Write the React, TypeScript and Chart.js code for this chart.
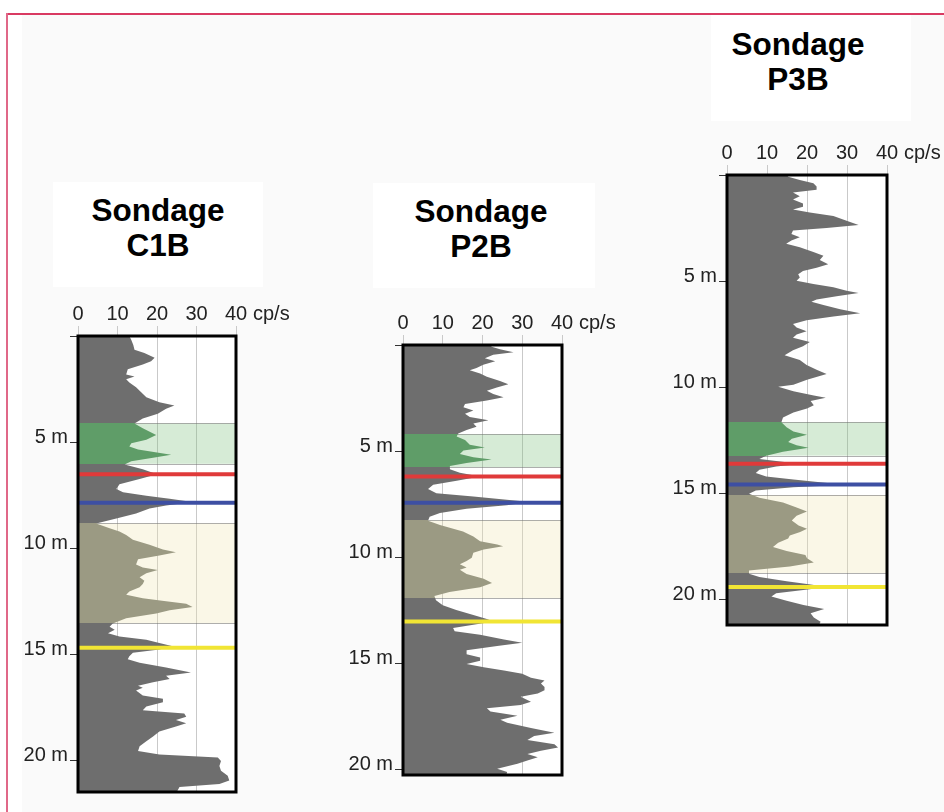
import React, { useEffect, useRef } from 'react';
import { Chart, registerables } from 'chart.js';

Chart.register(...registerables);

const FONT = '"Liberation Sans", Arial, Helvetica, sans-serif';

// ---------- Data: gamma-ray logs (depth in m, value in cp/s) ----------
const X_TICKS = [0, 10, 20, 30, 40];
const X_UNIT = 'cp/s';
const DEPTH_UNIT = 'm';

const C1B_DEPTH = [0, 0.19, 0.42, 0.65, 0.8, 1.03, 1.19, 1.34, 1.57, 1.81, 1.91, 2.04, 2.19, 2.42, 2.65, 2.89, 3.12, 3.27, 3.43, 3.66, 3.89, 4.12, 4.35, 4.66, 4.89, 5.05, 5.2, 5.35, 5.59, 5.74, 5.9, 6.05, 6.28, 6.51, 6.74, 6.98, 7.21, 7.36, 7.52, 7.67, 7.82, 7.98, 8.13, 8.36, 8.6, 8.83, 9.06, 9.21, 9.37, 9.6, 9.83, 10.06, 10.19, 10.34, 10.52, 10.76, 10.91, 11.02, 11.17, 11.37, 11.53, 11.68, 11.84, 12.04, 12.19, 12.35, 12.5, 12.61, 12.76, 12.92, 13.07, 13.3, 13.54, 13.69, 13.84, 14.0, 14.15, 14.31, 14.46, 14.62, 14.77, 14.92, 15.08, 15.23, 15.39, 15.62, 15.85, 16.0, 16.16, 16.31, 16.47, 16.57, 16.7, 16.93, 17.09, 17.25, 17.45, 17.63, 17.78, 17.93, 18.09, 18.24, 18.4, 18.63, 18.86, 19.09, 19.32, 19.55, 19.71, 19.86, 20.02, 20.25, 20.48, 20.71, 20.94, 21.1, 21.25, 21.48];
const C1B_GR = [13, 13.5, 14, 14.3, 16.8, 19.4, 18.5, 16.4, 12.6, 12.2, 14.3, 12.2, 13, 14.7, 16, 17.3, 20.6, 24.4, 22.3, 20.2, 16.4, 14.3, 16.4, 19.8, 17.3, 13.5, 13, 15.2, 23.6, 19, 13.5, 11.8, 16.4, 20, 15.6, 10.5, 9.7, 11.4, 17.3, 23.2, 29, 22.3, 18.1, 14.7, 9.7, 4.6, 8, 10.5, 12.2, 13.9, 18.1, 21.5, 24.8, 20.6, 15.2, 14.7, 16.4, 20.2, 17.3, 15.6, 16.8, 16.4, 15.6, 13, 12.2, 16.4, 22.3, 27.4, 29, 23.2, 19.8, 12.2, 8.8, 8, 9.3, 7.6, 10.5, 17.3, 20.6, 24, 20.6, 13.9, 13, 12.6, 15.6, 22.3, 28.6, 22.3, 23.2, 19, 15.2, 16.4, 14.7, 16.4, 21.5, 21.5, 17.3, 16.4, 26.9, 27.4, 24.8, 27.4, 24.8, 20.6, 19, 17.3, 15.6, 15.2, 20.6, 35.4, 36.2, 35.8, 36.2, 37.9, 38.3, 35.8, 25.7, 25];
const C1B_MAX_DEPTH = 21.48;
const C1B_GREEN = [4.12, 6.02];
const C1B_BEIGE = [8.83, 13.53];
const C1B_RED = 6.51;
const C1B_BLUE = 7.85;
const C1B_YELLOW = 14.69;

const P2B_DEPTH = [0, 0.08, 0.2, 0.34, 0.46, 0.62, 0.77, 0.93, 1.08, 1.19, 1.34, 1.5, 1.7, 1.85, 2.01, 2.16, 2.31, 2.47, 2.62, 2.78, 2.93, 3.09, 3.24, 3.4, 3.55, 3.7, 3.86, 4.01, 4.17, 4.32, 4.48, 4.71, 4.83, 4.98, 5.14, 5.29, 5.4, 5.56, 5.71, 5.86, 6.02, 6.2, 6.4, 6.59, 6.79, 6.99, 7.15, 7.3, 7.41, 7.56, 7.72, 7.92, 8.1, 8.29, 8.49, 8.8, 9.03, 9.26, 9.41, 9.49, 9.65, 9.8, 10.03, 10.19, 10.34, 10.49, 10.6, 10.8, 11.03, 11.22, 11.42, 11.65, 11.84, 12.04, 12.27, 12.5, 12.73, 12.92, 13.04, 13.19, 13.35, 13.5, 13.66, 13.89, 14.04, 14.2, 14.4, 14.58, 14.74, 14.89, 15.05, 15.2, 15.35, 15.51, 15.69, 15.82, 15.97, 16.13, 16.28, 16.44, 16.59, 16.82, 16.98, 17.13, 17.28, 17.48, 17.67, 17.82, 18.06, 18.29, 18.44, 18.63, 18.83, 18.98, 19.14, 19.29, 19.44, 19.6, 19.75, 19.98, 20.14, 20.28];
const P2B_GR = [22, 22.3, 24.4, 27.8, 22.7, 20.6, 23.2, 20.2, 18.5, 16.8, 19.4, 21.1, 24.4, 26.5, 23.6, 21.1, 22.7, 25.3, 21.1, 15.6, 15.2, 17.7, 15.6, 16.8, 21.5, 17.7, 18.5, 16, 13.9, 13.5, 15.6, 16.8, 20.6, 15.2, 14.3, 17.7, 22.3, 16, 11.8, 11.8, 14.3, 19.4, 13.5, 7.6, 6.3, 8.4, 17.7, 26.1, 32, 26.1, 16, 9.3, 6.7, 6.3, 9.3, 15.1, 17.7, 19.4, 23.7, 25.2, 20.3, 17.7, 17.3, 16, 14.3, 16, 14.3, 16, 20.3, 22.4, 19.4, 11.7, 7.9, 8.3, 10, 13.4, 17.7, 21.1, 22.8, 17.7, 12.6, 13, 19.4, 25.4, 30, 23.7, 16, 16, 19.4, 19.4, 16, 20.3, 25.4, 30, 32.2, 35.6, 34.7, 35.6, 35.6, 33.9, 29.6, 32.2, 29.6, 21.1, 22, 28.8, 24.5, 26.2, 32.2, 38.1, 33, 31.3, 38.1, 39, 34.7, 31.3, 33.9, 31.3, 28.8, 23.7, 26.2, 26];
const P2B_MAX_DEPTH = 20.28;
const P2B_GREEN = [4.21, 5.76];
const P2B_BEIGE = [8.27, 11.93];
const P2B_RED = 6.2;
const P2B_BLUE = 7.44;
const P2B_YELLOW = 13.04;

const P3B_DEPTH = [0, 0.08, 0.23, 0.39, 0.54, 0.69, 0.82, 1.0, 1.16, 1.34, 1.5, 1.62, 1.77, 1.93, 2.16, 2.35, 2.5, 2.62, 2.78, 2.93, 3.09, 3.24, 3.4, 3.63, 3.81, 4.01, 4.21, 4.37, 4.52, 4.68, 4.83, 4.98, 5.14, 5.29, 5.45, 5.56, 5.71, 5.86, 5.97, 6.13, 6.33, 6.51, 6.67, 6.84, 7.02, 7.18, 7.36, 7.52, 7.67, 7.87, 8.07, 8.26, 8.49, 8.72, 8.95, 9.18, 9.37, 9.65, 9.88, 9.98, 10.19, 10.39, 10.49, 10.65, 10.85, 11.0, 11.19, 11.42, 11.65, 11.88, 12.08, 12.24, 12.42, 12.58, 12.73, 12.85, 13.04, 13.23, 13.38, 13.53, 13.63, 13.73, 13.89, 14.04, 14.2, 14.35, 14.51, 14.58, 14.71, 14.86, 15.02, 15.2, 15.43, 15.66, 15.85, 16.05, 16.28, 16.51, 16.67, 16.82, 16.98, 17.13, 17.33, 17.52, 17.71, 17.9, 18.06, 18.26, 18.44, 18.63, 18.78, 18.94, 19.14, 19.29, 19.41, 19.55, 19.71, 19.86, 20.06, 20.26, 20.45, 20.65, 20.85, 21.05, 21.2];
const P3B_GR = [15, 15.3, 18.2, 21.6, 22.4, 22.4, 16.5, 18.2, 16.5, 19, 19, 16.5, 20.7, 26.6, 29.9, 32.9, 24.9, 16.5, 16.1, 18.2, 16.1, 14.8, 18.2, 21.6, 24.1, 23.2, 25.3, 22.4, 19, 17.8, 18.2, 17.4, 21.6, 26.6, 29.9, 32.9, 27.4, 22.4, 21.1, 24.1, 28.3, 33.3, 26.6, 19.9, 16.5, 17.4, 19.9, 17.4, 16.5, 20.7, 19, 16.5, 14.4, 18.2, 19.9, 22.4, 24.9, 20, 16.6, 12.8, 16.6, 21.7, 24.7, 20.9, 21.7, 20, 16.6, 14, 13.6, 14.9, 16.6, 20, 16.2, 15.3, 17.4, 20.4, 14, 9.8, 8.1, 14.9, 17.4, 12.3, 8.1, 7.2, 9.8, 16.6, 25.1, 31, 16.6, 7.2, 5.5, 8.1, 14, 17.4, 20, 17.4, 16.2, 17.9, 20, 18.3, 15.7, 15.3, 12.8, 11.5, 14.9, 19.6, 20, 21.7, 15.7, 5.5, 5.5, 8.1, 14.9, 20.9, 25.1, 19.1, 12.3, 11.1, 14.9, 19.1, 24.3, 20.9, 21.7, 23.4, 23];
const P3B_MAX_DEPTH = 21.2;
const P3B_GREEN = [11.65, 13.22];
const P3B_BEIGE = [15.08, 18.75];
const P3B_RED = 13.6;
const P3B_BLUE = 14.58;
const P3B_YELLOW = 19.41;

// ---------- Styles ----------
const GRAY = '#6e6e6e';
const GREEN_FILL = '#5f9d68';
const BEIGE_FILL = '#9b9a83';
const GREEN_BAND = 'rgba(120,190,120,0.30)';
const BEIGE_BAND = 'rgba(240,228,175,0.30)';
const RED = '#e03a3a';
const BLUE = '#3d4fa3';
const YELLOW = '#f1e534';

const LEFT_SPACE = 70;
const TOP_SPACE = 50;
const RIGHT_SPACE = 57;
const BOTTOM_SPACE = 6;

type Panel = {
  key: string;
  name: string;
  depth: number[];
  gr: number[];
  maxDepth: number;
  green: number[];
  beige: number[];
  red: number;
  blue: number;
  yellow: number;
  L: number; R: number; T: number; B: number;
  box: { left: number; top: number; width: number; height: number };
  textCx: number;
  textTop: number;
};

const PANELS: Panel[] = [
  {
    key: 'c1b', name: 'C1B', depth: C1B_DEPTH, gr: C1B_GR, maxDepth: C1B_MAX_DEPTH,
    green: C1B_GREEN, beige: C1B_BEIGE, red: C1B_RED, blue: C1B_BLUE, yellow: C1B_YELLOW,
    L: 78, R: 236, T: 336, B: 800,
    box: { left: 53, top: 182, width: 210, height: 105 }, textCx: 158, textTop: 193,
  },
  {
    key: 'p2b', name: 'P2B', depth: P2B_DEPTH, gr: P2B_GR, maxDepth: P2B_MAX_DEPTH,
    green: P2B_GREEN, beige: P2B_BEIGE, red: P2B_RED, blue: P2B_BLUE, yellow: P2B_YELLOW,
    L: 403, R: 562, T: 345, B: 783,
    box: { left: 373, top: 183, width: 222, height: 105 }, textCx: 481, textTop: 194,
  },
  {
    key: 'p3b', name: 'P3B', depth: P3B_DEPTH, gr: P3B_GR, maxDepth: P3B_MAX_DEPTH,
    green: P3B_GREEN, beige: P3B_BEIGE, red: P3B_RED, blue: P3B_BLUE, yellow: P3B_YELLOW,
    L: 727, R: 887, T: 175, B: 633,
    box: { left: 711, top: 15, width: 200, height: 106 }, textCx: 798, textTop: 27,
  },
];

function profileFill(chart: any, p: Panel) {
  const { chartArea, scales, ctx } = chart;
  if (!chartArea || !scales.y) return GRAY;
  const h = chartArea.bottom - chartArea.top;
  const t = (d: number) =>
    Math.min(1, Math.max(0, (scales.y.getPixelForValue(d) - chartArea.top) / h));
  const g = ctx.createLinearGradient(0, chartArea.top, 0, chartArea.bottom);
  g.addColorStop(0, GRAY);
  const bands = [
    { r: p.green, c: GREEN_FILL },
    { r: p.beige, c: BEIGE_FILL },
  ].sort((a, b) => a.r[0] - b.r[0]);
  for (const b of bands) {
    const a = t(b.r[0]);
    const z = t(b.r[1]);
    g.addColorStop(a, GRAY);
    g.addColorStop(a, b.c);
    g.addColorStop(z, b.c);
    g.addColorStop(z, GRAY);
  }
  g.addColorStop(1, GRAY);
  return g;
}

function makePlugin(p: Panel) {
  return {
    id: 'logDecor_' + p.key,
    beforeDraw(chart: any) {
      const { ctx, chartArea: a } = chart;
      ctx.save();
      ctx.fillStyle = '#ffffff';
      ctx.fillRect(a.left, a.top, a.right - a.left, a.bottom - a.top);
      ctx.restore();
    },
    beforeDatasetsDraw(chart: any) {
      const { ctx, chartArea: a, scales } = chart;
      const y = scales.y;
      ctx.save();
      for (const [range, color] of [[p.green, GREEN_BAND], [p.beige, BEIGE_BAND]] as any) {
        const y0 = y.getPixelForValue(range[0]);
        const y1 = y.getPixelForValue(range[1]);
        ctx.fillStyle = color;
        ctx.fillRect(a.left, y0, a.right - a.left, y1 - y0);
        ctx.strokeStyle = 'rgba(110,110,110,0.55)';
        ctx.lineWidth = 1;
        ctx.strokeRect(a.left, Math.round(y0) + 0.5, a.right - a.left, Math.round(y1) - Math.round(y0));
      }
      ctx.restore();
    },
    afterDatasetsDraw(chart: any) {
      const { ctx, chartArea: a, scales } = chart;
      const y = scales.y;
      const x = scales.x;
      ctx.save();
      for (const [d, color] of [[p.red, RED], [p.blue, BLUE], [p.yellow, YELLOW]] as any) {
        const yy = y.getPixelForValue(d);
        ctx.strokeStyle = color;
        ctx.lineWidth = 4;
        ctx.beginPath();
        ctx.moveTo(x.getPixelForValue(0), yy);
        ctx.lineTo(x.getPixelForValue(40), yy);
        ctx.stroke();
      }
      ctx.strokeStyle = '#000';
      ctx.lineWidth = 3;
      ctx.strokeRect(a.left, a.top, a.right - a.left, a.bottom - a.top);
      ctx.fillStyle = '#222';
      ctx.font = `20px ${FONT}`;
      ctx.textAlign = 'left';
      ctx.textBaseline = 'middle';
      ctx.fillText(X_UNIT, x.getPixelForValue(40) + 17, a.top - 22);
      ctx.restore();
    },
  };
}

function LogChart({ p }: { p: Panel }) {
  const ref = useRef<HTMLCanvasElement>(null);
  const width = p.R - p.L + LEFT_SPACE + RIGHT_SPACE;
  const height = p.B - p.T + TOP_SPACE + BOTTOM_SPACE;

  useEffect(() => {
    const canvas = ref.current;
    if (!canvas) return;
    const chart = new Chart(canvas, {
      type: 'line',
      data: {
        datasets: [
          {
            data: p.depth.map((d, i) => ({ x: p.gr[i], y: d })),
            fill: 'origin',
            backgroundColor: (ctx: any) => profileFill(ctx.chart, p),
            borderWidth: 0,
            borderColor: 'rgba(0,0,0,0)',
            pointRadius: 0,
            tension: 0,
          },
        ],
      },
      options: {
        indexAxis: 'y',
        responsive: false,
        animation: false,
        devicePixelRatio: 1,
        events: [],
        layout: { padding: { left: 0, top: 0, right: RIGHT_SPACE, bottom: BOTTOM_SPACE } },
        plugins: { legend: { display: false }, tooltip: { enabled: false }, title: { display: false } },
        scales: {
          x: {
            type: 'linear',
            position: 'top',
            min: X_TICKS[0],
            max: X_TICKS[X_TICKS.length - 1],
            afterBuildTicks: (s: any) => {
              s.ticks = X_TICKS.map((v) => ({ value: v }));
            },
            ticks: {
              font: { family: FONT, size: 20 },
              color: '#222',
              padding: 0,
              maxRotation: 0,
            },
            grid: { color: '#c9c9c9', lineWidth: 1, tickLength: 10, drawTicks: true },
            border: { display: false },
            afterFit: (s: any) => {
              s.height = TOP_SPACE;
            },
          },
          y: {
            type: 'linear',
            position: 'left',
            reverse: true,
            min: 0,
            max: p.maxDepth,
            ticks: {
              stepSize: 5,
              includeBounds: false,
              callback: (v: any) => (Number(v) === 0 ? '' : `${v} ${DEPTH_UNIT}`),
              labelOffset: -5,
              padding: 2,
              font: { family: FONT, size: 20 },
              color: '#222',
            },
            grid: { drawOnChartArea: false, drawTicks: true, tickLength: 8, tickColor: '#333', lineWidth: 1 },
            border: { display: false },
            afterFit: (s: any) => {
              s.width = LEFT_SPACE;
            },
          },
        },
      } as any,
      plugins: [makePlugin(p)],
    } as any);
    return () => chart.destroy();
  }, []);

  return (
    <canvas
      ref={ref}
      width={width}
      height={height}
      style={{
        position: 'absolute',
        left: p.L - LEFT_SPACE,
        top: p.T - TOP_SPACE,
        width,
        height,
      }}
    />
  );
}

export default function App() {
  return (
    <div
      style={{
        position: 'absolute',
        left: 0,
        top: 0,
        width: 944,
        height: 812,
        overflow: 'hidden',
        background: '#ffffff',
        fontFamily: FONT,
      }}
    >
      <div style={{ position: 'absolute', left: 22, top: 15, right: 0, bottom: 0, background: '#fafafa' }} />
      <div style={{ position: 'absolute', left: 7, top: 13, width: 937, height: 2, background: '#d93a62' }} />
      <div style={{ position: 'absolute', left: 6, top: 13, width: 2, height: 799, background: '#e06888' }} />
      {PANELS.map((p) => (
        <React.Fragment key={p.key}>
          <div style={{ position: 'absolute', ...p.box, background: '#ffffff' }} />
          <div
            style={{
              position: 'absolute',
              left: p.textCx - 120,
              top: p.textTop - 0.5,
              width: 240,
              textAlign: 'center',
              fontWeight: 'bold',
              fontSize: 31.5,
              lineHeight: '35px',
              color: '#000',
              whiteSpace: 'pre',
            }}
          >
            {'Sondage\n' + p.name}
          </div>
          <LogChart p={p} />
        </React.Fragment>
      ))}
    </div>
  );
}
